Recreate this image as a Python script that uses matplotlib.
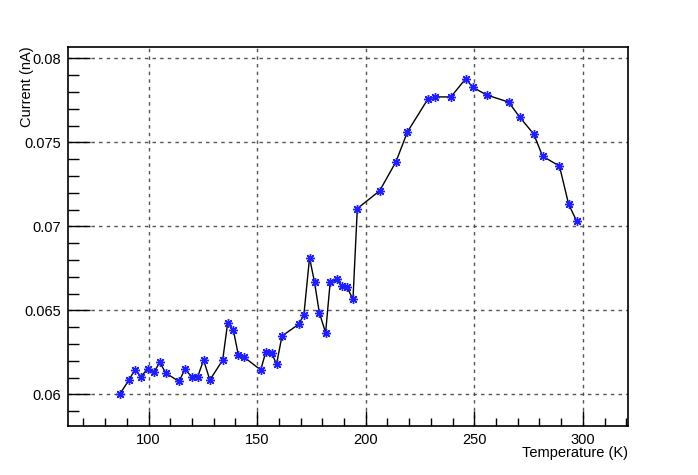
import matplotlib
matplotlib.use('Agg')
import matplotlib.pyplot as plt
from matplotlib.ticker import MultipleLocator

plt.rcParams['font.family'] = ['Liberation Sans', 'DejaVu Sans']

# temperature (K) and current (nA)
temperature = [86.7, 90.9, 93.7, 96.5, 99.5, 102.6, 105.1, 108.0, 114.0, 116.7,
               119.8, 122.6, 125.3, 128.2, 134.1, 136.4, 139.0, 141.3, 143.7, 151.6,
               154.0, 156.6, 158.9, 161.4, 169.1, 171.5, 174.1, 176.4, 178.6, 181.5,
               183.6, 186.6, 188.9, 191.4, 194.1, 196.1, 206.4, 213.9, 219.2, 228.7,
               232.1, 239.2, 246.0, 249.2, 255.6, 265.8, 270.8, 277.4, 281.4, 289.2,
               293.4, 297.1]
current = [0.06000, 0.06085, 0.06146, 0.06105, 0.06152, 0.06135, 0.06190, 0.06125, 0.06077, 0.06149,
           0.06105, 0.06105, 0.06204, 0.06085, 0.06204, 0.06426, 0.06383, 0.06234, 0.06224, 0.06145,
           0.06254, 0.06248, 0.06179, 0.06347, 0.06417, 0.06474, 0.06813, 0.06667, 0.06486, 0.06367,
           0.06667, 0.06685, 0.06645, 0.06637, 0.06565, 0.07106, 0.07212, 0.07385, 0.07563, 0.07760,
           0.07771, 0.07771, 0.07879, 0.07829, 0.07783, 0.07740, 0.07652, 0.07549, 0.07418, 0.07359,
           0.07133, 0.07032]

fig = plt.figure(figsize=(6.98, 4.75), dpi=100)
ax = fig.add_axes([68.3 / 698, 1 - 425.7 / 475, 560 / 698, 379 / 475])

ax.plot(temperature, current, color='black', linewidth=1.0, zorder=3)
ax.plot(temperature, current, linestyle='none', marker=(8, 2, 0), markersize=6.5,
        markeredgecolor='#2020ff', markeredgewidth=1.0, zorder=4)

ax.set_xlim(63.0, 320.9)
ax.set_ylim(0.05813, 0.0807)

ax.xaxis.set_major_locator(MultipleLocator(50))
ax.xaxis.set_minor_locator(MultipleLocator(10))
ax.yaxis.set_major_locator(MultipleLocator(0.005))
ax.yaxis.set_minor_locator(MultipleLocator(0.001))
ax.set_yticks([0.06, 0.065, 0.07, 0.075, 0.08])
ax.set_yticklabels(['0.06', '0.065', '0.07', '0.075', '0.08'])

ax.grid(True, which='major', color='#555555', linestyle=(0, (2.5, 3)), linewidth=1.0)

ax.tick_params(axis='x', which='major', direction='in', length=11, width=1,
               top=False, labelsize=10.5, pad=5)
ax.tick_params(axis='x', which='minor', direction='in', length=5.5, width=1, top=False)
ax.tick_params(axis='y', which='major', direction='in', length=16, width=1,
               right=False, labelsize=10.5, pad=5)
ax.tick_params(axis='y', which='minor', direction='in', length=8, width=1, right=False)

for s in ax.spines.values():
    s.set_linewidth(1.2)
    s.set_color('black')

fig.text(628.3 / 698, 1 - 453 / 475, 'Temperature (K)', ha='right', va='center', fontsize=10.5)
fig.text(27 / 698, 1 - 46.7 / 475, 'Current (nA)', rotation=90, ha='center', va='top', fontsize=10.5)

fig.savefig('out.png', dpi=100)
